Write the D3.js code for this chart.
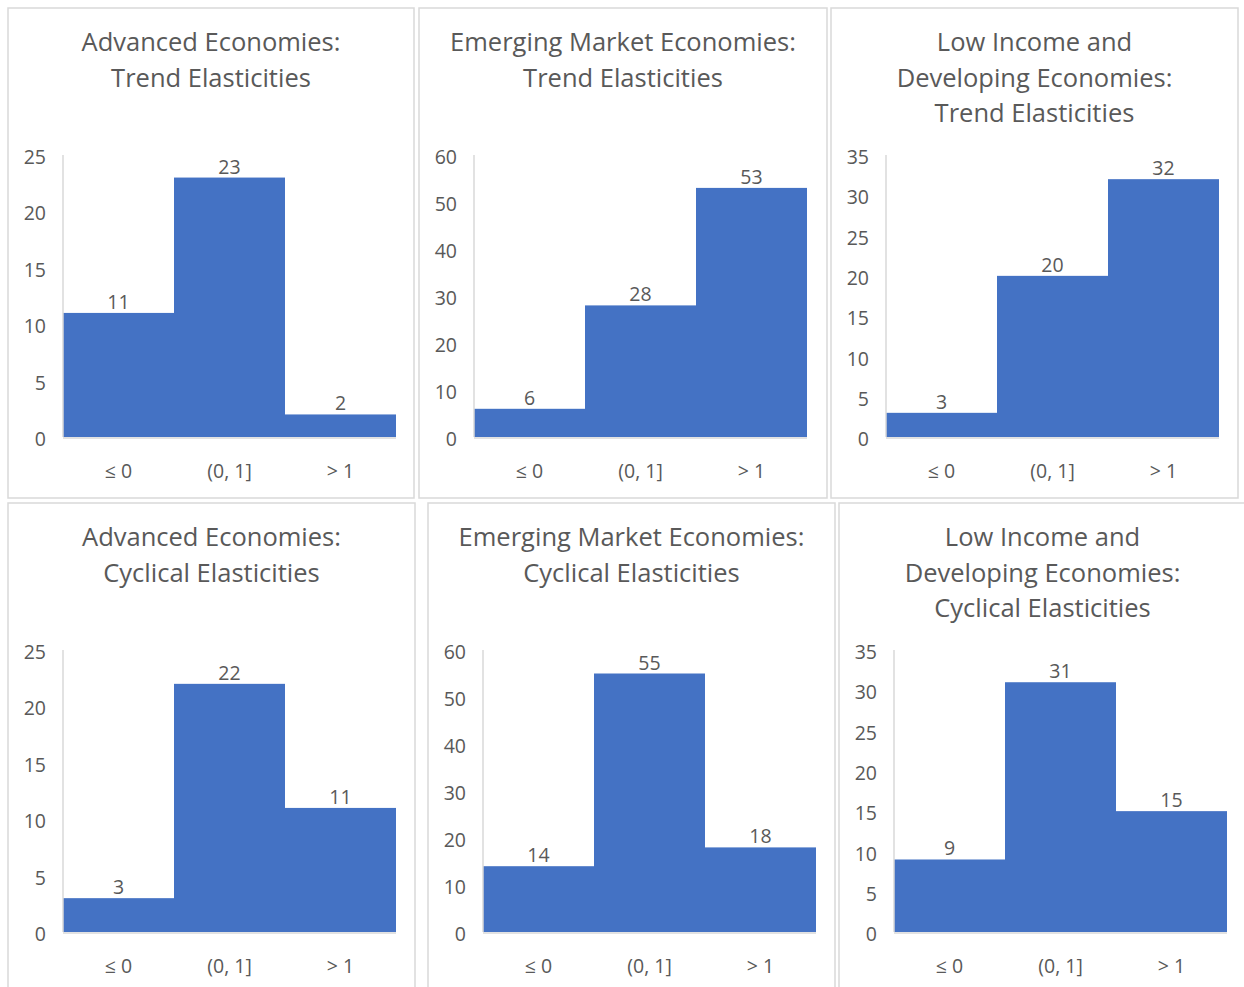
<!DOCTYPE html>
<html>
<head>
<meta charset="utf-8">
<script src="https://cdn.jsdelivr.net/npm/d3@7"></script>
<style>
  html, body { margin: 0; padding: 0; background: #fff; }
  svg { display: block; }
  text { font-family: "Open Sans", sans-serif; fill: #595959; }
</style>
</head>
<body>
<svg id="chart" width="1244" height="987"></svg>
<script>
// Bins of the elasticity distribution
const categories = ["\u2264 0", "(0, 1]", "> 1"];

// Counts per bin
const aeTrend   = [11, 23, 2];
const emTrend   = [6, 28, 53];
const lidcTrend = [3, 20, 32];
const aeCyc     = [3, 22, 11];
const emCyc     = [14, 55, 18];
const lidcCyc   = [9, 31, 15];

// Y-axis tick labels per group
const aeTicks   = [0, 5, 10, 15, 20, 25];
const emTicks   = [0, 10, 20, 30, 40, 50, 60];
const lidcTicks = [0, 5, 10, 15, 20, 25, 30, 35];

// Titles
const aeTrendTitle   = ["Advanced Economies:", "Trend Elasticities"];
const emTrendTitle   = ["Emerging Market Economies:", "Trend Elasticities"];
const lidcTrendTitle = ["Low Income and", "Developing Economies:", "Trend Elasticities"];
const aeCycTitle     = ["Advanced Economies:", "Cyclical Elasticities"];
const emCycTitle     = ["Emerging Market Economies:", "Cyclical Elasticities"];
const lidcCycTitle   = ["Low Income and", "Developing Economies:", "Cyclical Elasticities"];

const panels = [
  { x: 8,   y: 8,   w: 406, title: aeTrendTitle,   values: aeTrend,   ticks: aeTicks },
  { x: 419, y: 8,   w: 408, title: emTrendTitle,   values: emTrend,   ticks: emTicks },
  { x: 831, y: 8,   w: 407, title: lidcTrendTitle, values: lidcTrend, ticks: lidcTicks },
  { x: 8,   y: 503, w: 407, title: aeCycTitle,     values: aeCyc,     ticks: aeTicks },
  { x: 428, y: 503, w: 407, title: emCycTitle,     values: emCyc,     ticks: emTicks },
  { x: 839, y: 503, w: 407, title: lidcCycTitle,   values: lidcCyc,   ticks: lidcTicks }
];

const svg = d3.select("#chart");
const barColor = "#4472C4";
const gridGrey = "#d9d9d9";
const fontStack = "'Open Sans', sans-serif";
const labelSize = 19.5;
const boxH = 490;
const plotLeft = 55, plotW = 333, plotTop = 147, plotH = 282;

panels.forEach(p => {
  const g = svg.append("g").attr("transform", `translate(${p.x},${p.y})`);

  // chart frame
  g.append("rect")
    .attr("x", 0).attr("y", 0)
    .attr("width", p.w).attr("height", boxH)
    .attr("fill", "#fff")
    .attr("stroke", gridGrey)
    .attr("stroke-width", 1.5);

  // title
  const t = g.append("text")
    .attr("text-anchor", "middle")
    .attr("font-size", 25.5);
  p.title.forEach((line, i) => {
    t.append("tspan")
      .attr("x", p.w / 2)
      .attr("y", 43 + i * 35.5)
      .text(line);
  });

  const x = d3.scaleBand().domain(categories).range([0, plotW]).padding(0);
  const y = d3.scaleLinear().domain([0, d3.max(p.ticks)]).range([plotH, 0]);

  const plot = g.append("g").attr("transform", `translate(${plotLeft},${plotTop})`);

  // y axis labels
  const yAxis = d3.axisLeft(y).tickValues(p.ticks).tickSize(0).tickPadding(17);
  const ya = plot.append("g").call(yAxis);
  ya.select(".domain").remove();
  ya.selectAll("text")
    .attr("font-size", labelSize)
    .attr("fill", "#595959")
    .attr("dy", "0.44em")
    .style("font-family", fontStack);

  // bars
  plot.selectAll("rect.bar")
    .data(p.values)
    .join("rect")
    .attr("class", "bar")
    .attr("x", (d, i) => x(categories[i]))
    .attr("width", x.bandwidth())
    .attr("y", d => y(d))
    .attr("height", d => plotH - y(d))
    .attr("fill", barColor);

  // axis lines
  plot.append("line")
    .attr("x1", 0).attr("x2", 0)
    .attr("y1", 0).attr("y2", plotH)
    .attr("stroke", gridGrey).attr("stroke-width", 1.5);
  plot.append("line")
    .attr("x1", 0).attr("x2", plotW)
    .attr("y1", plotH + 1).attr("y2", plotH + 1)
    .attr("stroke", gridGrey).attr("stroke-width", 1.5);

  // value labels
  plot.selectAll("text.val")
    .data(p.values)
    .join("text")
    .attr("class", "val")
    .attr("text-anchor", "middle")
    .attr("font-size", labelSize)
    .attr("x", (d, i) => x(categories[i]) + x.bandwidth() / 2)
    .attr("y", d => y(d) - 4)
    .text(d => d);

  // category labels
  const xAxis = d3.axisBottom(x).tickSize(0).tickPadding(27);
  const xa = plot.append("g").attr("transform", `translate(0,${plotH})`).call(xAxis);
  xa.select(".domain").remove();
  xa.selectAll("text")
    .attr("font-size", labelSize)
    .attr("fill", "#595959")
    .style("font-family", fontStack);
});
</script>
</body>
</html>
